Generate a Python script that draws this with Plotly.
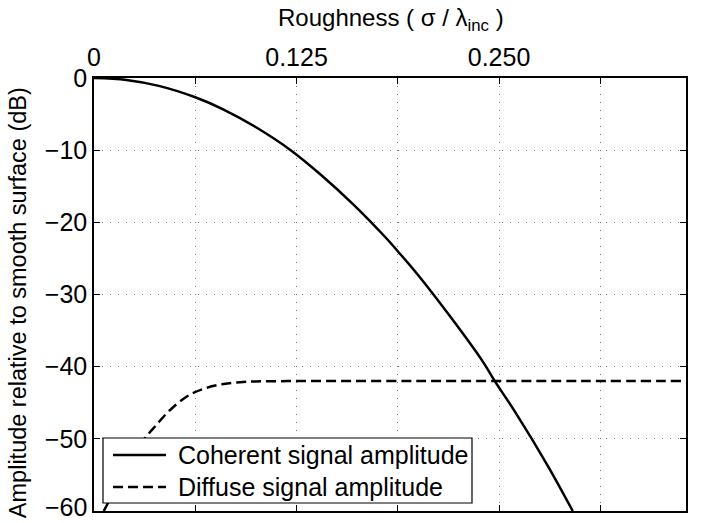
import plotly.graph_objects as go

# Roughness (sigma / lambda_inc) vs amplitude (dB)
coh_x = [0, 0.02, 0.04, 0.0625, 0.08, 0.1, 0.122, 0.14, 0.16, 0.18, 0.1875,
         0.2, 0.22, 0.24, 0.2474, 0.26, 0.28, 0.2955]
coh_db = [0, -0.27, -1.09, -2.67, -4.37, -6.83, -10.1, -13.4, -17.5, -22.1, -24.0,
          -27.3, -33.1, -39.3, -42.0, -46.3, -53.7, -60]

dif_x = [0.006, 0.0086, 0.012, 0.018, 0.025, 0.0315, 0.038, 0.047, 0.059, 0.07,
         0.08, 0.09, 0.1, 0.12, 0.2, 0.3, 0.3654]
dif_db = [-60, -58.9, -57, -54.5, -52, -49.9, -48.2, -46.0, -43.9, -42.9,
          -42.4, -42.15, -42.05, -42.0, -42.0, -42.0, -42.0]

series_names = ["Coherent signal amplitude", "Diffuse signal amplitude"]

x_tickvals = [0, 0.125, 0.25]
x_ticktext = ["0", "0.125", "0.250"]
x_grid_step = 0.0625
y_tickvals = [0, -10, -20, -30, -40, -50]
y_bottom = -60
y_bottom_label = "−60"  # drawn separately: Plotly hides it at the paper edge

FONT = "Liberation Sans, Arial, Helvetica, sans-serif"
DASH = "10px,5px"
GRID = dict(showgrid=True, gridcolor="#777", gridwidth=1, griddash="1px,7px")

fig = go.Figure()
fig.add_trace(go.Scatter(x=coh_x, y=coh_db, mode="lines", name=series_names[0], showlegend=False,
                         line=dict(color="black", width=2.5, shape="spline")))
fig.add_trace(go.Scatter(x=dif_x, y=dif_db, mode="lines", name=series_names[1], showlegend=False,
                         line=dict(color="black", width=2.5, dash=DASH, shape="spline")))

# legend box drawn in paper coordinates (plot area: 592 x 433 px)
PW, PH = 592.0, 433.0
def px_x(p):
    return (p - 94) / PW
def px_y(p):
    return (511 - p) / PH

shapes = [
    dict(type="rect", xref="paper", yref="paper", layer="above",
         x0=px_x(103), x1=px_x(472), y0=px_y(503), y1=px_y(438),
         fillcolor="white", line=dict(color="black", width=1.2)),
    dict(type="line", xref="paper", yref="paper", layer="above",
         x0=px_x(113), x1=px_x(166), y0=px_y(455), y1=px_y(455),
         line=dict(color="black", width=2.5)),
    dict(type="line", xref="paper", yref="paper", layer="above",
         x0=px_x(113), x1=px_x(166), y0=px_y(487), y1=px_y(487),
         line=dict(color="black", width=2.5, dash=DASH)),
]

annotations = [
    dict(text="Roughness ( σ / λ<sub>inc</sub> )", xref="paper", yref="paper",
         x=0.502, y=1 + 76 / PH, xanchor="center", yanchor="top",
         showarrow=False, font=dict(size=24)),
    dict(text="Amplitude relative to smooth surface (dB)", xref="paper", yref="paper",
         x=(18 - 94) / PW, y=0.48, xanchor="center", yanchor="middle", textangle=-90,
         showarrow=False, font=dict(size=23.5)),
    dict(text=series_names[0], xref="paper", yref="paper", x=px_x(176), y=px_y(455),
         xanchor="left", yanchor="middle", showarrow=False, font=dict(size=25)),
    dict(text=series_names[1], xref="paper", yref="paper", x=px_x(176), y=px_y(487),
         xanchor="left", yanchor="middle", showarrow=False, font=dict(size=25)),
    dict(text=y_bottom_label, xref="paper", yref="y", x=px_x(89), y=y_bottom,
         xanchor="right", yanchor="bottom", yshift=-12, showarrow=False, font=dict(size=25)),
]

fig.update_layout(
    width=704, height=523,
    margin=dict(l=94, r=18, t=78, b=12),
    paper_bgcolor="white", plot_bgcolor="white",
    font=dict(family=FONT, size=24, color="black"),
    showlegend=False,
    xaxis=dict(side="top", range=[0, 0.3654], tickvals=x_tickvals, ticktext=x_ticktext,
               ticks="inside", ticklen=6, tickcolor="black", mirror="ticks",
               showline=True, linecolor="black", linewidth=1.5, **GRID,
               minor=dict(tick0=0, dtick=x_grid_step, ticks="inside", ticklen=6,
                          tickcolor="black", **GRID),
               zeroline=False, tickfont=dict(size=25), automargin=False),
    yaxis=dict(range=[y_bottom, 0], tickvals=y_tickvals,
               ticks="inside", ticklen=6, tickcolor="black", mirror="ticks",
               showline=True, linecolor="black", linewidth=1.5, **GRID,
               zeroline=False, tickfont=dict(size=25), automargin=False),
    shapes=shapes,
    annotations=annotations,
)

fig.write_html("out.html")
